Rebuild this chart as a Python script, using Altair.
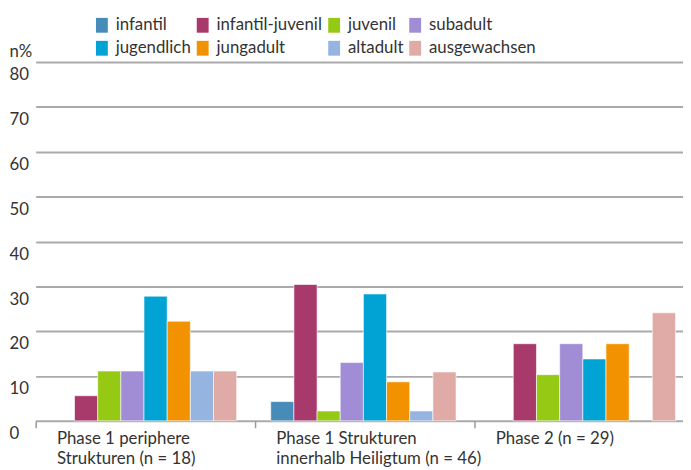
import altair as alt
import pandas as pd

categories = ["infantil", "infantil-juvenil", "juvenil", "subadult",
              "jugendlich", "jungadult", "altadult", "ausgewachsen"]
colors = ["#478cb9", "#a8396b", "#95c913", "#a08dd5",
          "#00a3d3", "#f39200", "#95b4e0", "#e0aaa7"]
groups = ["Phase 1 periphere|Strukturen (n = 18)",
          "Phase 1 Strukturen|innerhalb Heiligtum (n = 46)",
          "Phase 2 (n = 29)"]
phase1_peripher = [0, 5.6, 11.1, 11.1, 27.8, 22.2, 11.1, 11.1]
phase1_heiligtum = [4.3, 30.4, 2.2, 13.0, 28.3, 8.7, 2.2, 10.9]
phase2 = [0, 17.2, 10.3, 17.2, 13.8, 17.2, 0, 24.1]
y_ticks = [0, 10, 20, 30, 40, 50, 60, 70, 80]

rows = []
for g, vals in zip(groups, [phase1_peripher, phase1_heiligtum, phase2]):
    for c, v in zip(categories, vals):
        rows.append({"group": g, "category": c, "value": v})
df = pd.DataFrame(rows)

font = "Lato"
fs = 17
txt = "#333333"

chart = alt.Chart(df).transform_filter("datum.value > 0").mark_bar(
    stroke="white", strokeWidth=0.6
).encode(
    x=alt.X("group:N", sort=groups,
            scale=alt.Scale(domain=groups, range=[28, 694], paddingInner=0, paddingOuter=0),
            axis=alt.Axis(title=None, domain=False, tickBand="extent", tickSize=7,
                          tickColor="#999999", tickWidth=1.5, labelAlign="left",
                          labelOffset=-90, labelBaseline="top", labelPadding=3,
                          labelExpr="split(datum.label, '|')", labelLineHeight=20,
                          labelFontSize=fs, labelColor=txt, labelFont=font,
                          labelAngle=0, labelLimit=400)),
    xOffset=alt.XOffset("category:N",
                        scale=alt.Scale(domain=categories, paddingInner=0,
                                        paddingOuter=0.735, align=0.46)),
    y=alt.Y("value:Q", scale=alt.Scale(domain=[0, 80], nice=False),
            axis=alt.Axis(values=y_ticks, title="n%", titleAngle=0, titleAlign="left",
                          titleBaseline="alphabetic", titleX=1, titleY=-6,
                          titleFontSize=fs, titleFontWeight="normal", titleFont=font,
                          titleColor=txt, domain=False, ticks=False, tickSize=0,
                          labelAlign="left", labelBaseline="top", labelPadding=-1,
                          labelOffset=5, labelFontSize=fs, labelFont=font,
                          labelColor=txt, grid=True, gridColor="#aaaaaa", gridWidth=2)),
    color=alt.Color("category:N",
                    scale=alt.Scale(domain=categories, range=colors),
                    legend=alt.Legend(title=None, orient="none", legendX=86.5, legendY=-46,
                                      columns=4, direction="horizontal", gridAlign="each",
                                      symbolType="M-0.8,-1H0.8V1H-0.8Z",
                                      symbolSize=225, symbolStrokeWidth=0,
                                      labelFontSize=fs, labelFont=font, labelColor=txt,
                                      labelOffset=5.5, columnPadding=3, rowPadding=5.5,
                                      padding=0)),
).properties(
    width=683, height=363,
    autosize=alt.AutoSizeParams(type="none"),
    padding={"left": 0, "top": 52, "right": 0, "bottom": 47},
).configure_view(stroke=None)

chart.save("out.html", embed_options={"renderer": "svg", "actions": False})
